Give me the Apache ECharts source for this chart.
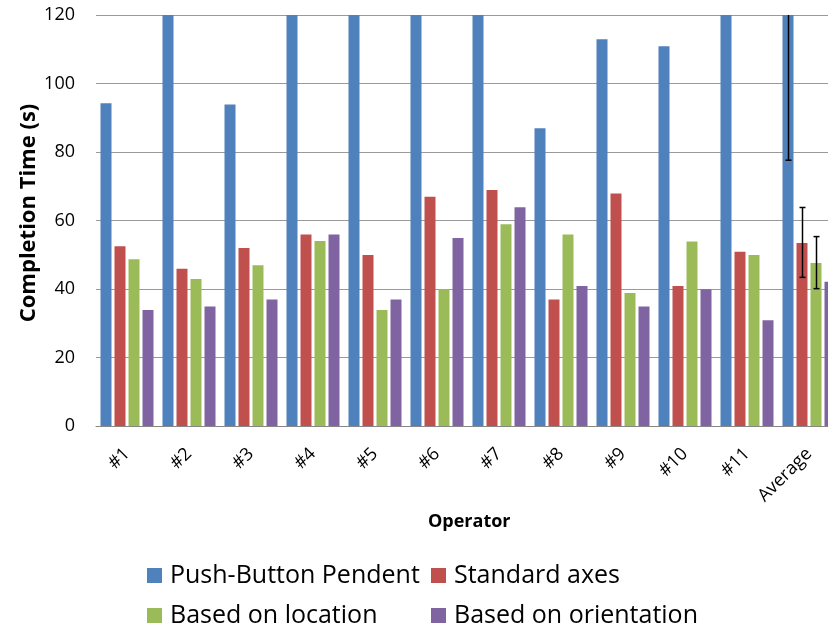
<!DOCTYPE html>
<html>
<head>
<meta charset="utf-8">
<script src="https://cdn.jsdelivr.net/npm/echarts@6/dist/echarts.min.js"></script>
<style>
html,body{margin:0;padding:0;background:#fff;overflow:hidden;width:828px;height:632px;}
#chart{width:840px;height:632px;}
</style>
</head>
<body>
<div id="chart"></div>
<script>
// ---- data ----
var categories = ['#1','#2','#3','#4','#5','#6','#7','#8','#9','#10','#11','Average'];
var pushButton = [94.2, 150, 93.9, 170, 160, 175, 165, 86.9, 112.9, 110.9, 165, 135];
var standardAxes = [52.5, 45.9, 52.0, 55.9, 49.9, 66.9, 68.9, 36.9, 67.9, 40.9, 50.9, 53.4];
var basedOnLocation = [48.7, 42.9, 46.9, 54.0, 33.9, 39.9, 58.9, 55.9, 38.8, 53.9, 49.9, 47.6];
var basedOnOrientation = [33.9, 34.9, 36.9, 55.9, 36.9, 54.9, 63.9, 40.9, 34.9, 39.9, 30.9, 42.1];
var seriesNames = ['Push-Button Pendent', 'Standard axes', 'Based on location', 'Based on orientation'];
// error bars on the Average group (series index, low, high)
var errSeriesIdx = [0, 1, 2];
var errLow = [77.6, 43.4, 40.1];
var errHigh = [192.4, 63.8, 55.3];
var yTicks = [0, 20, 40, 60, 80, 100, 120];

var colors = ['#4F81BD', '#C0504D', '#9BBB59', '#8064A2'];
var FONT = '"Open Sans", sans-serif';
var BAR_W = 11, BAR_GAP = 3;

var errData = errSeriesIdx.map(function (k, i) {
  return [categories.length - 1, errLow[i], errHigh[i], k];
});

var chart = echarts.init(document.getElementById('chart'), null, {renderer: 'canvas'});
var allValues = [pushButton, standardAxes, basedOnLocation, basedOnOrientation];

var series = allValues.map(function (vals, i) {
  return {
    name: seriesNames[i],
    type: 'bar',
    data: vals,
    barWidth: BAR_W,
    barGap: (BAR_GAP / BAR_W * 100).toFixed(1) + '%',
    itemStyle: {color: colors[i]},
    clip: true,
    silent: true
  };
});

series.push({
  type: 'custom',
  data: errData,
  encode: {x: 0, y: [1, 2]},
  z: 10,
  silent: true,
  renderItem: function (params, api) {
    var x = api.value(0), lo = api.value(1), hi = api.value(2), k = api.value(3);
    var pLo = api.coord([x, lo]);
    var pHi = api.coord([x, hi]);
    var cs = params.coordSys;
    var cx = Math.round(pLo[0] + (k - 1.5) * (BAR_W + BAR_GAP)) + 0.5;
    var top = Math.max(pHi[1], cs.y);
    var bot = Math.min(pLo[1], cs.y + cs.height);
    var children = [{
      type: 'line',
      shape: {x1: cx, y1: top, x2: cx, y2: bot},
      style: {stroke: '#000', lineWidth: 1.5}
    }];
    var capW = 3;
    if (pLo[1] <= cs.y + cs.height) {
      children.push({type: 'line', shape: {x1: cx - capW, y1: bot, x2: cx + capW, y2: bot}, style: {stroke: '#000', lineWidth: 1.5}});
    }
    if (pHi[1] >= cs.y) {
      children.push({type: 'line', shape: {x1: cx - capW, y1: top, x2: cx + capW, y2: top}, style: {stroke: '#000', lineWidth: 1.5}});
    }
    return {type: 'group', children: children};
  }
});

function oneLegend(i, left, top) {
  return {
    data: [seriesNames[i]],
    left: left,
    top: top,
    padding: 0,
    itemWidth: 15,
    itemHeight: 15,
    icon: 'rect',
    textStyle: {fontFamily: FONT, fontSize: 25, color: '#000', lineHeight: 25, padding: [0, 0, 0, 3]},
    selectedMode: false
  };
}

var option = {
  animation: false,
  backgroundColor: '#fff',
  grid: {left: 96, top: 15, right: 0, bottom: 206, containLabel: false},
  xAxis: {
    type: 'category',
    data: categories,
    axisLine: {show: true, lineStyle: {color: '#878787', width: 1}},
    axisTick: {show: false},
    axisLabel: {
      interval: 0,
      rotate: 45,
      margin: 25,
      fontFamily: FONT,
      fontSize: 18,
      color: '#000'
    },
    splitLine: {show: false}
  },
  yAxis: {
    type: 'value',
    min: 0,
    max: 120,
    interval: 20,
    axisLine: {show: false},
    axisTick: {show: false},
    axisLabel: {
      margin: 21,
      fontFamily: FONT,
      fontSize: 18,
      color: '#000',
      formatter: function (v) { return yTicks.indexOf(v) >= 0 ? String(v) : ''; }
    },
    splitLine: {show: true, lineStyle: {color: '#9a9a9a', width: 1}}
  },
  legend: [
    oneLegend(0, 147, 563),
    oneLegend(1, 431, 563),
    oneLegend(2, 147, 603),
    oneLegend(3, 431, 603)
  ],
  graphic: [{
    type: 'text',
    left: 428,
    top: 513,
    style: {text: 'Operator', fontFamily: FONT, fontSize: 18, fontWeight: 'bold', fill: '#000'}
  }, {
    type: 'text',
    x: 29,
    y: 213,
    rotation: Math.PI / 2,
    style: {text: 'Completion Time (s)', fontFamily: FONT, fontSize: 22, fontWeight: 'bold', fill: '#000', align: 'center', verticalAlign: 'middle'}
  }],
  series: series
};

chart.setOption(option);
</script>
</body>
</html>
